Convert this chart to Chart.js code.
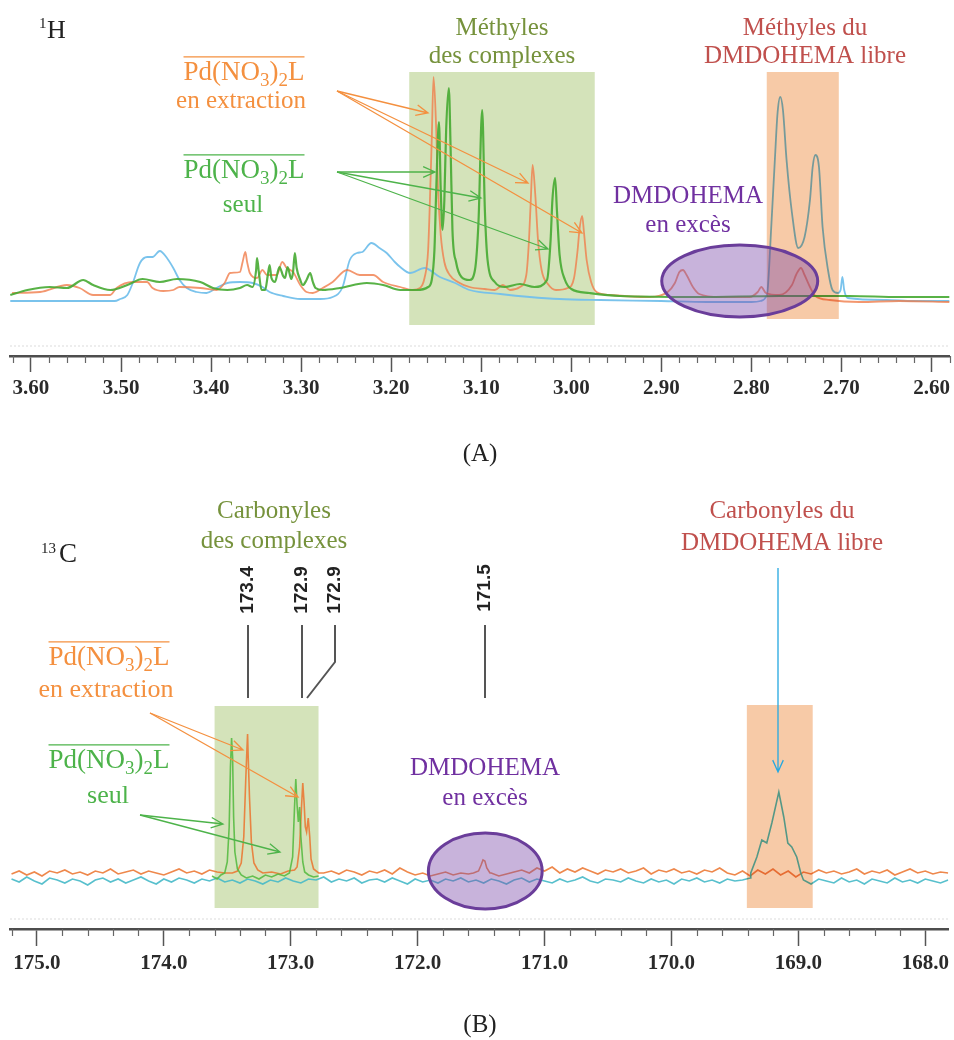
<!DOCTYPE html>
<html lang="fr">
<head>
<meta charset="utf-8">
<title>RMN 1H / 13C</title>
<script src="https://cdn.jsdelivr.net/npm/chart.js@4.4.1/dist/chart.umd.min.js"></script>
<style>
  html, body { margin: 0; padding: 0; background: #fff; }
  canvas { display: block; }
</style>
</head>
<body>
<canvas id="chartA" width="954" height="470"></canvas>
<canvas id="chartB" width="954" height="570"></canvas>
<script>
// ---------- (A) 1H : ppm / intensité (u.a., ligne de base = 0) ----------
const hTicks = [3.60, 3.50, 3.40, 3.30, 3.20, 3.10, 3.00, 2.90, 2.80, 2.70, 2.60];

// DMDOHEMA libre (bleu)
const hBluePpm = [3.623, 3.507, 3.501, 3.493, 3.487, 3.479, 3.471, 3.465, 3.457, 3.449,
  3.442, 3.435, 3.427, 3.416, 3.405, 3.394, 3.382, 3.368, 3.354, 3.343,
  3.335, 3.320, 3.301, 3.279, 3.265, 3.254, 3.246, 3.238, 3.232, 3.222,
  3.213, 3.205, 3.196, 3.190, 3.179, 3.163, 3.146, 3.129, 3.113, 3.079,
  3.046, 3.013, 2.968, 2.900, 2.850, 2.800, 2.790, 2.784, 2.782, 2.778,
  2.774, 2.771, 2.768, 2.765, 2.761, 2.755, 2.748, 2.741, 2.735, 2.732,
  2.729, 2.725, 2.721, 2.715, 2.710, 2.704, 2.701, 2.699, 2.697, 2.693,
  2.650, 2.620, 2.580];
const hBlueInt = [-1, -1, 1, 5, 17, 37, 43, 43, 49, 42,
  32, 20, 12, 8, 7, 12, 17, 18, 17, 13,
  8, 4, 1, 1, 3, 13, 40, 47, 48, 57,
  52, 47, 38, 33, 27, 32, 23, 17, 10, 6,
  3, 1, 0, -1, -2, -2, -1, 3, 10, 73,
  140, 187, 203, 190, 140, 87, 52, 63, 100, 133,
  145, 133, 73, 30, 10, 7, 10, 23, 10, 2,
  0, -1, -1];

// Pd(NO3)2L en extraction (orange)
const hOrangePpm = [3.621, 3.590, 3.560, 3.546, 3.531, 3.512, 3.505, 3.487, 3.471, 3.465,
  3.453, 3.442, 3.435, 3.412, 3.394, 3.385, 3.379, 3.368, 3.365, 3.362,
  3.360, 3.357, 3.349, 3.343, 3.338, 3.327, 3.321, 3.316, 3.309, 3.301,
  3.294, 3.287, 3.276, 3.265, 3.249, 3.235, 3.220, 3.209, 3.190, 3.176,
  3.168, 3.163, 3.159, 3.157, 3.155, 3.153, 3.150, 3.148, 3.145, 3.141,
  3.135, 3.126, 3.113, 3.096, 3.085, 3.076, 3.068, 3.057, 3.050, 3.047,
  3.045, 3.043, 3.040, 3.037, 3.033, 3.026, 3.017, 3.004, 2.997, 2.993,
  2.991, 2.988, 2.986, 2.983, 2.978, 2.972, 2.957, 2.913, 2.893, 2.885,
  2.880, 2.876, 2.872, 2.865, 2.858, 2.835, 2.802, 2.793, 2.789, 2.784,
  2.769, 2.755, 2.750, 2.745, 2.741, 2.735, 2.729, 2.713, 2.680, 2.636, 2.580];
const hOrangeInt = [7, 8, 15, 12, 5, 5, 12, 18, 18, 12,
  9, 10, 13, 12, 10, 17, 27, 28, 38, 48,
  38, 27, 22, 30, 25, 25, 38, 32, 28, 15,
  8, 7, 12, 18, 30, 25, 25, 18, 13, 10,
  12, 22, 50, 100, 160, 223, 170, 110, 65, 38,
  25, 18, 13, 11, 10, 15, 10, 13, 25, 60,
  100, 135, 105, 60, 30, 16, 10, 12, 22, 50,
  70, 84, 68, 40, 18, 8, 5, 3, 8, 17,
  28, 30, 25, 13, 6, 3, 3, 8, 13, 7,
  5, 15, 26, 32, 25, 13, 4, 0, -2, -1, -2];

// Pd(NO3)2L seul (vert)
const hGreenPpm = [3.623, 3.604, 3.579, 3.560, 3.542, 3.531, 3.512, 3.493, 3.476, 3.457,
  3.438, 3.412, 3.398, 3.382, 3.368, 3.360, 3.354, 3.350, 3.349, 3.347,
  3.344, 3.340, 3.337, 3.335, 3.333, 3.329, 3.326, 3.324, 3.320, 3.318,
  3.315, 3.311, 3.309, 3.307, 3.305, 3.301, 3.298, 3.294, 3.290, 3.287,
  3.284, 3.276, 3.257, 3.227, 3.209, 3.190, 3.172, 3.159, 3.155, 3.152,
  3.150, 3.147, 3.145, 3.143, 3.141, 3.139, 3.136, 3.134, 3.132, 3.128,
  3.122, 3.113, 3.107, 3.103, 3.099, 3.096, 3.093, 3.085, 3.074, 3.057,
  3.041, 3.027, 3.023, 3.021, 3.018, 3.016, 3.013, 3.007, 3.000, 2.980,
  2.946, 2.858, 2.769, 2.691, 2.636, 2.580];
const hGreenInt = [5, 10, 13, 12, 20, 15, 10, 15, 21, 18,
  21, 18, 12, 10, 12, 15, 13, 30, 42, 28,
  10, 10, 25, 35, 22, 18, 28, 33, 24, 22,
  33, 21, 28, 47, 32, 20, 15, 20, 27, 18,
  12, 10, 12, 17, 15, 10, 10, 13, 20, 50,
  110, 178, 110, 70, 100, 170, 212, 150, 70, 38,
  23, 20, 30, 80, 190, 90, 40, 18, 13, 16,
  13, 20, 60, 100, 122, 90, 45, 20, 11, 7,
  4, 3, 4, 4, 3, 3];

// ---------- (B) 13C ----------
const cTicks = [175, 174, 173, 172, 171, 170, 169, 168];
const cPeakLabels = ['173.4', '172.9', '172.9', '171.5'];

// ligne de base (bruit) relevée tous les 0,06 ppm
const cGridPpm = [175.20, 175.14, 175.08, 175.02, 174.96, 174.90, 174.84, 174.78, 174.72, 174.66,
  174.60, 174.54, 174.48, 174.42, 174.36, 174.30, 174.24, 174.18, 174.12, 174.06,
  174.00, 173.94, 173.88, 173.82, 173.76, 173.70, 173.64, 173.58, 173.52, 173.46,
  173.40, 173.34, 173.28, 173.22, 173.16, 173.10, 173.04, 172.98, 172.92, 172.86,
  172.80, 172.74, 172.68, 172.62, 172.56, 172.50, 172.44, 172.38, 172.32, 172.26,
  172.20, 172.14, 172.08, 172.02, 171.96, 171.90, 171.84, 171.78, 171.72, 171.66,
  171.60, 171.54, 171.48, 171.42, 171.36, 171.30, 171.24, 171.18, 171.12, 171.06,
  171.00, 170.94, 170.88, 170.82, 170.76, 170.70, 170.64, 170.58, 170.52, 170.46,
  170.40, 170.34, 170.28, 170.22, 170.16, 170.10, 170.04, 169.98, 169.92, 169.86,
  169.80, 169.74, 169.68, 169.62, 169.56, 169.50, 169.44, 169.38, 169.32, 169.26,
  169.20, 169.14, 169.08, 169.02, 168.96, 168.90, 168.84, 168.78, 168.72, 168.66,
  168.60, 168.54, 168.48, 168.42, 168.36, 168.30, 168.24, 168.18, 168.12, 168.06,
  168.00, 167.94, 167.88, 167.82];
const cOrangeBase = [3, 6, 2, 5, 1, 6, 4, 7, 3, 5,
  2, 6, 4, 8, 3, 5, 7, 3, 6, 4,
  2, 5, 8, 4, 6, 3, 7, 5, 4, 6,
  3, 5, 2, 6, 4, 7, 5, 3, 6, 4,
  8, 4, 6, 3, 7, 5, 2, 6, 4, 7,
  3, 9, 5, 2, 4, 1, 3, 5, 2, 4,
  3, 5, 2, 4, 1, 3, 5, 7, 4, 9,
  6, 10, 4, 8, 5, 9, 6, 3, 7, 5,
  8, 4, 6, 9, 3, 7, 5, 8, 4, 6,
  3, 7, 5, 9, 4, 2, 6, 1, 7, 3,
  8, 2, 6, 0, 5, 3, 7, 4, 6, 3,
  5, 8, 3, 6, 4, 7, 2, 5, 8, 4,
  6, 3, 5, 4];
const cTealBase = [-2, -5, 0, -4, -7, -1, -3, -6, -2, -4,
  -8, -3, -1, -5, -2, -6, -3, 0, -4, -7,
  -2, -5, -1, -3, -6, -2, -4, -1, -5, -3,
  -6, -2, -4, -7, -3, -5, -1, -4, -6, -2,
  -3, 0, -5, -2, -4, -1, -6, -3, -2, -5,
  -1, -4, -7, -2, -5, -3, -6, -2, -4, -1,
  -5, -3, -6, -2, -4, -7, -3, -1, -5, -2,
  -4, -6, -2, -5, -3, 0, -4, -6, -2, -3,
  -5, -1, -4, -6, -2, -5, -3, -7, -2, -4,
  -1, -5, -3, -6, -2, -4, -3, -1, -5, -2,
  -4, -6, -2, -5, -3, -7, -2, -4, -6, -1,
  -5, -3, -7, -2, -4, -6, -1, -5, -3, -6,
  -2, -4, -6, -3];

// carbonyles des complexes (orange, en extraction)
const cOrangePeakPpm = [173.46, 173.42, 173.39, 173.37, 173.355, 173.345, 173.34, 173.335, 173.325, 173.31,
  173.29, 173.26, 173.22, 173.15, 173.08, 173.02, 172.97, 172.95, 172.93, 172.915,
  172.905, 172.895, 172.885, 172.875, 172.862, 172.85, 172.84, 172.82, 172.78];
const cOrangePeakInt = [4, 6, 14, 40, 95, 128, 143, 120, 80, 35,
  14, 7, 4, 5, 3, 6, 7, 10, 30, 70,
  94, 75, 50, 45, 59, 40, 18, 8, 4];
// DMDOHEMA en excès (orange)
const cExcessPpm = [171.56, 171.52, 171.50, 171.485, 171.47, 171.455, 171.43];
const cExcessInt = [4, 6, 12, 17, 16, 9, 4];
// carbonyles du DMDOHEMA libre (bleu)
const cFreePpm = [169.375, 169.327, 169.288, 169.249, 169.209, 169.154, 169.115, 169.083, 169.052, 169.013, 168.981];
const cFreeInt = [4, 20, 37, 34, 54, 85, 60, 34, 30, 20, 4];
// complexe seul (vert)
const cGreenPpm = [173.62, 173.58, 173.55, 173.52, 173.50, 173.485, 173.475, 173.466, 173.458, 173.45,
  173.44, 173.42, 173.39, 173.35, 173.30, 173.25, 173.20, 173.15, 173.10, 173.05,
  173.01, 172.985, 172.97, 172.96, 172.95, 172.94, 172.93, 172.92, 172.905, 172.89,
  172.86, 172.82, 172.78];
const cGreenInt = [1, -2, 2, 4, 15, 50, 110, 139, 120, 60,
  25, 8, 2, -1, 1, -2, 2, 0, 3, 1,
  4, 20, 70, 98, 72, 55, 70, 40, 15, 5,
  2, 0, 1];

// ---------- helpers ----------
const SERIF = '"Liberation Serif", "Times New Roman", serif';
const C_ORANGE = '#f4903f', C_GREEN = '#4db34a', C_OLIVE = '#76923c', C_RED = '#c0504d', C_PURPLE = '#7030a0';

const pts = (xs, ys) => xs.map((x, i) => ({ x: x, y: ys[i] }));

function withPeaks(gridX, gridY, peaks) {
  const out = [];
  gridX.forEach((x, i) => {
    const inside = peaks.some(p => x <= p[0][0] && x >= p[0][p[0].length - 1]);
    if (!inside) out.push({ x: x, y: gridY[i] });
  });
  peaks.forEach(p => p[0].forEach((x, i) => out.push({ x: x, y: p[1][i] })));
  return out.sort((a, b) => b.x - a.x);
}

function text(ctx, s, x, y, size, color, align) {
  ctx.font = size + 'px ' + SERIF;
  ctx.fillStyle = color;
  ctx.textAlign = align || 'center';
  ctx.textBaseline = 'alphabetic';
  ctx.fillText(s, x, y);
}

function drawPd(ctx, cx, base, size, color) {
  const big = size + 'px ' + SERIF, small = Math.round(size * 0.7) + 'px ' + SERIF;
  const parts = [['Pd(NO', big, 0], ['3', small, size * 0.24], [')', big, 0], ['2', small, size * 0.24], ['L', big, 0]];
  let w = 0;
  parts.forEach(p => { ctx.font = p[1]; p.push(ctx.measureText(p[0]).width); w += p[3]; });
  let x = cx - w / 2;
  ctx.fillStyle = color;
  ctx.textAlign = 'left';
  ctx.textBaseline = 'alphabetic';
  parts.forEach(p => { ctx.font = p[1]; ctx.fillText(p[0], x, base + p[2]); x += p[3]; });
  ctx.strokeStyle = color;
  ctx.lineWidth = 1.3;
  ctx.beginPath();
  ctx.moveTo(cx - w / 2, base - size * 0.86);
  ctx.lineTo(cx + w / 2, base - size * 0.86);
  ctx.stroke();
}

function arrow(ctx, x0, y0, x1, y1, color) {
  const a = Math.atan2(y1 - y0, x1 - x0), h = 13, s = 0.42;
  ctx.strokeStyle = color;
  ctx.lineWidth = 1.3;
  ctx.beginPath();
  ctx.moveTo(x0, y0);
  ctx.lineTo(x1, y1);
  ctx.moveTo(x1 - h * Math.cos(a - s), y1 - h * Math.sin(a - s));
  ctx.lineTo(x1, y1);
  ctx.lineTo(x1 - h * Math.cos(a + s), y1 - h * Math.sin(a + s));
  ctx.stroke();
}

function box(chart, b) {
  const ctx = chart.ctx, xs = chart.scales.x, ys = chart.scales.y;
  const x0 = xs.getPixelForValue(b.from), x1 = xs.getPixelForValue(b.to);
  const y0 = ys.getPixelForValue(b.top), y1 = ys.getPixelForValue(b.bottom);
  ctx.save();
  if (b.multiply) ctx.globalCompositeOperation = 'multiply';
  ctx.fillStyle = b.color;
  ctx.fillRect(x0, y0, x1 - x0, y1 - y0);
  ctx.restore();
}

function ellipse(chart, e) {
  const ctx = chart.ctx, xs = chart.scales.x, ys = chart.scales.y;
  const cx = xs.getPixelForValue(e.x), cy = ys.getPixelForValue(e.y);
  const rx = Math.abs(xs.getPixelForValue(e.x + e.rx) - cx);
  const ry = Math.abs(ys.getPixelForValue(e.y + e.ry) - cy);
  ctx.save();
  ctx.beginPath();
  ctx.ellipse(cx, cy, rx, ry, 0, 0, Math.PI * 2);
  ctx.fillStyle = 'rgba(125,75,170,0.42)';
  ctx.fill();
  ctx.strokeStyle = '#6a3d9a';
  ctx.lineWidth = 3;
  ctx.stroke();
  ctx.restore();
}

function minorTicks(chart, step, len) {
  const ctx = chart.ctx, xs = chart.scales.x;
  ctx.save();
  ctx.strokeStyle = '#666';
  ctx.lineWidth = 1.2;
  for (let k = Math.ceil(xs.min / step - 1e-6); k <= Math.floor(xs.max / step + 1e-6); k++) {
    if (k % 5 === 0) continue;
    const x = Math.round(xs.getPixelForValue(k * step)) + 0.5;
    ctx.beginPath();
    ctx.moveTo(x, xs.top);
    ctx.lineTo(x, xs.top + len);
    ctx.stroke();
  }
  // fine pointillé gris au-dessus de la règle
  ctx.strokeStyle = 'rgba(0,0,0,0.12)';
  ctx.setLineDash([2, 2]);
  ctx.beginPath();
  ctx.moveTo(xs.left, xs.top - 10);
  ctx.lineTo(xs.right, xs.top - 10);
  ctx.stroke();
  ctx.restore();
}

function spectrumOptions(cfg) {
  return {
    responsive: false,
    animation: false,
    events: [],
    layout: { padding: { left: 10, right: 4, top: 20, bottom: 0 } },
    plugins: { legend: { display: false }, tooltip: { enabled: false } },
    scales: {
      x: {
        type: 'linear', reverse: true, min: cfg.xMin, max: cfg.xMax,
        afterBuildTicks: s => { s.ticks = cfg.ticks.map(v => ({ value: v })); },
        afterFit: s => { s.height = cfg.axisH; },
        grid: { drawOnChartArea: false, drawTicks: true, tickLength: cfg.tickLen, tickColor: '#555', tickWidth: 1.5 },
        border: { display: true, color: '#4d4d4d', width: 2.5 },
        ticks: {
          autoSkip: false, maxRotation: 0, padding: cfg.pad, color: '#2a2a2a',
          font: { family: 'Liberation Serif', weight: 'bold', size: 21 },
          callback: v => Number(v).toFixed(cfg.dec)
        }
      },
      y: { display: false, min: cfg.yMin, max: cfg.yMax }
    }
  };
}

const line = (data, color, width, tension) => ({
  data: data, borderColor: color, borderWidth: width, pointRadius: 0, fill: false,
  tension: tension, cubicInterpolationMode: tension ? 'monotone' : 'default'
});

const GREEN_BOX = '#d4e3ba', ORANGE_BOX = '#f7caa7';

// ---------- (A) ----------
const notesA = {
  id: 'notesA',
  beforeDatasetsDraw(chart) {
    box(chart, { from: 3.180, to: 2.974, top: 228, bottom: -25, color: GREEN_BOX });
  },
  afterDatasetsDraw(chart) {
    box(chart, { from: 2.783, to: 2.703, top: 228, bottom: -19, color: ORANGE_BOX, multiply: true });
    ellipse(chart, { x: 2.813, y: 19, rx: 0.0866, ry: 36 });
  },
  afterDraw(chart) {
    const ctx = chart.ctx;
    minorTicks(chart, 0.02, 7);
    ctx.save();
    text(ctx, '1', 39, 28, 15, '#222', 'left');
    text(ctx, 'H', 47, 38, 26, '#222', 'left');
    text(ctx, 'Méthyles', 502, 35, 25, C_OLIVE);
    text(ctx, 'des complexes', 502, 63, 25, C_OLIVE);
    text(ctx, 'Méthyles du', 805, 35, 25, C_RED);
    text(ctx, 'DMDOHEMA libre', 805, 63, 25, C_RED);
    drawPd(ctx, 244, 80, 27, C_ORANGE);
    text(ctx, 'en extraction', 241, 108, 25, C_ORANGE);
    drawPd(ctx, 244, 178, 27, C_GREEN);
    text(ctx, 'seul', 243, 212, 25, C_GREEN);
    text(ctx, 'DMDOHEMA', 688, 203, 25, C_PURPLE);
    text(ctx, 'en excès', 688, 232, 25, C_PURPLE);
    [[428, 113], [528, 183], [582, 233]].forEach(t => arrow(ctx, 337, 91, t[0], t[1], C_ORANGE));
    [[435, 172], [481, 198], [548, 249]].forEach(t => arrow(ctx, 337, 172, t[0], t[1], C_GREEN));
    text(ctx, '(A)', 480, 461, 25, '#222');
    ctx.restore();
  }
};

new Chart(document.getElementById('chartA'), {
  type: 'line',
  data: {
    datasets: [
      line(pts(hGreenPpm, hGreenInt), 'rgba(70,170,50,0.9)', 2.2, 0.2),
      line(pts(hOrangePpm, hOrangeInt), 'rgba(240,125,75,0.8)', 1.8, 0.2),
      line(pts(hBluePpm, hBlueInt), 'rgba(115,192,235,0.95)', 1.8, 0.2)
    ]
  },
  options: spectrumOptions({ xMin: 2.580, xMax: 3.6233, yMin: -56, yMax: 280, ticks: hTicks, dec: 2, tickLen: 16, pad: 4, axisH: 114 }),
  plugins: [notesA]
});

// ---------- (B) ----------
const notesB = {
  id: 'notesB',
  beforeDatasetsDraw(chart) {
    box(chart, { from: 173.600, to: 172.781, top: 171, bottom: -31, color: GREEN_BOX });
  },
  afterDatasetsDraw(chart) {
    box(chart, { from: 169.406, to: 168.887, top: 172, bottom: -31, color: ORANGE_BOX, multiply: true });
    ellipse(chart, { x: 171.467, y: 6, rx: 0.4485, ry: 38 });
  },
  afterDraw(chart) {
    const ctx = chart.ctx;
    minorTicks(chart, 0.2, 7);
    ctx.save();
    text(ctx, '13', 41, 83, 15, '#222', 'left');
    text(ctx, 'C', 59, 92, 27, '#222', 'left');
    text(ctx, 'Carbonyles', 274, 48, 25, C_OLIVE);
    text(ctx, 'des complexes', 274, 78, 25, C_OLIVE);
    text(ctx, 'Carbonyles du', 782, 48, 25, C_RED);
    text(ctx, 'DMDOHEMA libre', 782, 80, 25, C_RED);
    drawPd(ctx, 109, 195, 27, C_ORANGE);
    text(ctx, 'en extraction', 106, 227, 26, C_ORANGE);
    drawPd(ctx, 109, 298, 27, C_GREEN);
    text(ctx, 'seul', 108, 333, 26, C_GREEN);
    text(ctx, 'DMDOHEMA', 485, 305, 25, C_PURPLE);
    text(ctx, 'en excès', 485, 335, 25, C_PURPLE);

    // repères de pics
    ctx.strokeStyle = '#555';
    ctx.lineWidth = 2;
    ctx.beginPath();
    ctx.moveTo(248, 155); ctx.lineTo(248, 228);
    ctx.moveTo(302, 155); ctx.lineTo(302, 228);
    ctx.moveTo(335, 155); ctx.lineTo(335, 192); ctx.lineTo(307, 228);
    ctx.moveTo(485, 155); ctx.lineTo(485, 228);
    ctx.stroke();
    ctx.font = 'bold 19px "Liberation Sans", Arial, sans-serif';
    ctx.fillStyle = '#222';
    ctx.textAlign = 'center';
    ctx.textBaseline = 'middle';
    [[248, 120], [302, 120], [335, 120], [485, 118]].forEach((p, i) => {
      ctx.save();
      ctx.translate(p[0], p[1]);
      ctx.rotate(-Math.PI / 2);
      ctx.fillText(cPeakLabels[i], 0, 0);
      ctx.restore();
    });

    [[243, 280], [298, 327]].forEach(t => arrow(ctx, 150, 243, t[0], t[1], C_ORANGE));
    [[223, 354], [280, 382]].forEach(t => arrow(ctx, 140, 345, t[0], t[1], C_GREEN));
    arrow(ctx, 778, 98, 778, 302, '#25a8e0');
    text(ctx, '(B)', 480, 562, 25, '#222');
    ctx.restore();
  }
};

new Chart(document.getElementById('chartB'), {
  type: 'line',
  data: {
    datasets: [
      line(pts(cGreenPpm, cGreenInt), 'rgba(80,185,60,0.85)', 1.6, 0),
      line(withPeaks(cGridPpm, cTealBase, [[cFreePpm, cFreeInt]]), 'rgba(70,185,200,0.9)', 1.6, 0),
      line(withPeaks(cGridPpm, cOrangeBase, [[cOrangePeakPpm, cOrangePeakInt], [cExcessPpm, cExcessInt]]), 'rgba(235,115,45,0.85)', 1.6, 0)
    ]
  },
  options: spectrumOptions({ xMin: 167.817, xMax: 175.212, yMin: -52, yMax: 387, ticks: cTicks, dec: 1, tickLen: 17, pad: 5, axisH: 111 }),
  plugins: [notesB]
});
</script>
</body>
</html>
